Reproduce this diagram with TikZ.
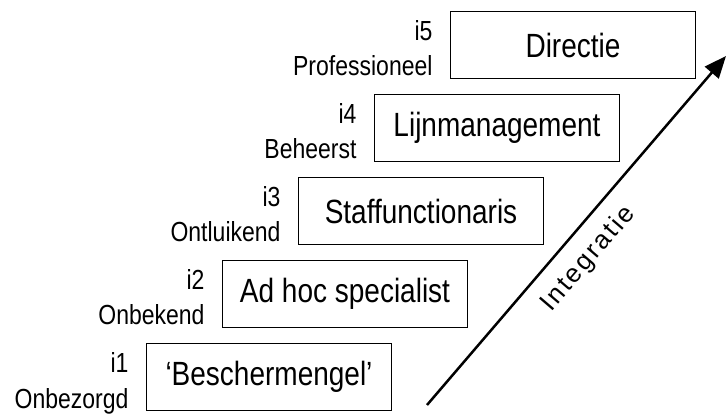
\documentclass[tikz,border=0pt]{standalone}
\usepackage{graphicx}
\usepackage{fontspec}
\setmainfont{Liberation Sans}
\newfontfamily\spacedfont[LetterSpace=9]{Liberation Sans}
\usetikzlibrary{arrows.meta}
% letters in the reference are drawn somewhat taller than wide
\newcommand{\tall}[1]{\scalebox{1}[1.2]{#1}}

\begin{document}
\begin{tikzpicture}[x=1pt,y=1pt,
  level/.style={draw, line width=1.6pt, minimum width=245pt, minimum height=67pt, inner sep=0pt, font=\fontsize{28}{32}\selectfont},
  tag/.style={anchor=base east, inner sep=0pt, font=\fontsize{23}{26}\selectfont}]
  \useasboundingbox (0,0) rectangle (728,415);

  % Levels with their labels
  \foreach \i/\name/\stage in {1/‘Beschermengel’/Onbezorgd, 2/Ad hoc specialist/Onbekend, 3/Staffunctionaris/Ontluikend, 4/Lijnmanagement/Beheerst, 5/Directie/Professioneel} {
    \node[level] (lvl\i) at ({269+76*(\i-1)}, {38+83*(\i-1)}) {\tall{\name}};
    \node[tag] (num\i) at ([xshift=-17pt, yshift=4pt]lvl\i.west) {\tall{i\i}};
    \node[tag] (stage\i) at ([xshift=-17pt, yshift=-31pt]lvl\i.west) {\tall{\stage}};
  }

  % Integration arrow
  \coordinate (tail) at (427,10);
  \coordinate (head) at (726,359);
  \draw[line width=2.5pt, -{Triangle[length=22pt,width=18pt]}] (tail) -- (head)
    node[pos=0.47, sloped, below=11pt, font=\spacedfont\fontsize{26}{30}\selectfont] (integ) {Integratie};
\end{tikzpicture}
\end{document}
